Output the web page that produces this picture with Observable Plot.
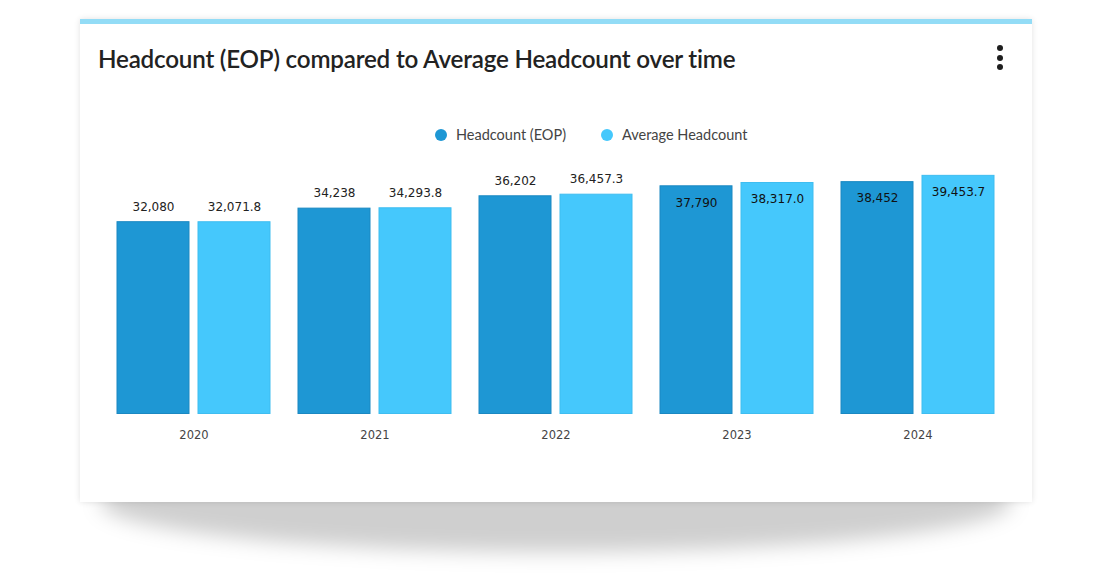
<!DOCTYPE html>
<html>
<head>
<meta charset="utf-8">
<script src="https://cdn.jsdelivr.net/npm/d3@7"></script>
<script src="https://cdn.jsdelivr.net/npm/@observablehq/plot@0.6"></script>
<style>
  html, body { margin: 0; padding: 0; background: #ffffff; }
  body { width: 1111px; height: 580px; position: relative; overflow: hidden; }
  #shadow { position: absolute; left: 100px; width: 912px; top: 452px; height: 100px; border-radius: 50%;
    background: rgba(0,0,0,0.19); filter: blur(10px); }
  #card { position: absolute; left: 80px; top: 19px; width: 952px; height: 478px; background: #fff;
    border-top: 5px solid #93dcf6; box-shadow: 0 0 6px rgba(0,0,0,0.12); }
  #title { position: absolute; left: 18px; top: 20px; font-family: Lato, "Open Sans", sans-serif; font-weight: 600;
    font-size: 24.2px; color: #222; white-space: nowrap; letter-spacing: -0.2px; }
  #menu { position: absolute; left: 917px; top: 21px; width: 6px; }
  #menu span { display: block; width: 6px; height: 6px; border-radius: 50%; background: #1e1e1e; margin-bottom: 3.5px; }
  .leg { position: absolute; top: 102px; font-family: Lato, "Open Sans", sans-serif; font-size: 14.5px; color: #444; white-space: nowrap; }
  .leg i { position: absolute; left: -21px; top: 3px; width: 12px; height: 12px; border-radius: 50%; }
  #chart { position: absolute; left: 0; top: 76px; }
</style>
</head>
<body>
<div id="shadow"></div>
<div id="card">
  <div id="title"></div>
  <div id="menu"><span></span><span></span><span></span></div>
  <div id="legend"></div>
  <div id="chart"></div>
</div>
<script>
const years = ["2020", "2021", "2022", "2023", "2024"];
const headcountEOP = [32080, 34238, 36202, 37790, 38452];
const averageHeadcount = [32071.8, 34293.8, 36457.3, 38317.0, 39453.7];
const seriesNames = ["Headcount (EOP)", "Average Headcount"];
const seriesColors = ["#1e97d4", "#45c8fc"];
const seriesStrokes = ["#1a88c2", "#3fbdf0"];
const titleText = "Headcount (EOP) compared to Average Headcount over time";

document.getElementById("title").textContent = titleText;

// legend
const legendLeft = [376, 542];
const legend = document.getElementById("legend");
seriesNames.forEach((name, i) => {
  const d = document.createElement("div");
  d.className = "leg";
  d.style.left = legendLeft[i] + "px";
  d.innerHTML = `<i style="background:${seriesColors[i]}"></i>`;
  d.appendChild(document.createTextNode(name));
  legend.appendChild(d);
});

const fmt0 = d3.format(",.0f");
const fmt1 = d3.format(",.1f");
const data = [];
years.forEach((y, i) => {
  data.push({year: y, series: seriesNames[0], value: headcountEOP[i], label: fmt0(headcountEOP[i])});
  data.push({year: y, series: seriesNames[1], value: averageHeadcount[i], label: fmt1(averageHeadcount[i])});
});

const yMin = 1400, yMax = 45000;
const insideThreshold = 37000;

const chart = Plot.plot({
  width: 952,
  height: 360,
  marginLeft: 35.5,
  marginRight: 35.5,
  marginTop: 40,
  marginBottom: 46,
  style: {fontFamily: "DejaVu Sans, sans-serif", fontSize: "11px", color: "#444", background: "transparent"},
  fx: {domain: years, paddingInner: 0.1425, paddingOuter: 0, label: null, axis: null},
  x: {domain: seriesNames, paddingInner: 0.1, paddingOuter: 0, axis: null},
  y: {domain: [yMin, yMax], axis: null},
  color: {domain: seriesNames, range: seriesColors},
  marks: [
    Plot.barY(data, {fx: "year", x: "series", y1: yMin, y2: "value", fill: "series",
      stroke: d => seriesStrokes[seriesNames.indexOf(d.series)], strokeWidth: 1, inset: 0.5}),
    Plot.text(data.filter(d => d.value < insideThreshold), {fx: "year", x: "series", y: "value", text: "label",
      dy: -15, fill: "#222", fontSize: 12}),
    Plot.text(data.filter(d => d.value >= insideThreshold), {fx: "year", x: "series", y: "value", text: "label",
      dy: 17, fill: "#111", fontSize: 12}),
    Plot.axisFx({anchor: "bottom", tickSize: 0, tickPadding: 16, fontSize: 11.5, fill: "#444", label: null})
  ]
});
document.getElementById("chart").appendChild(chart);
</script>
</body>
</html>
